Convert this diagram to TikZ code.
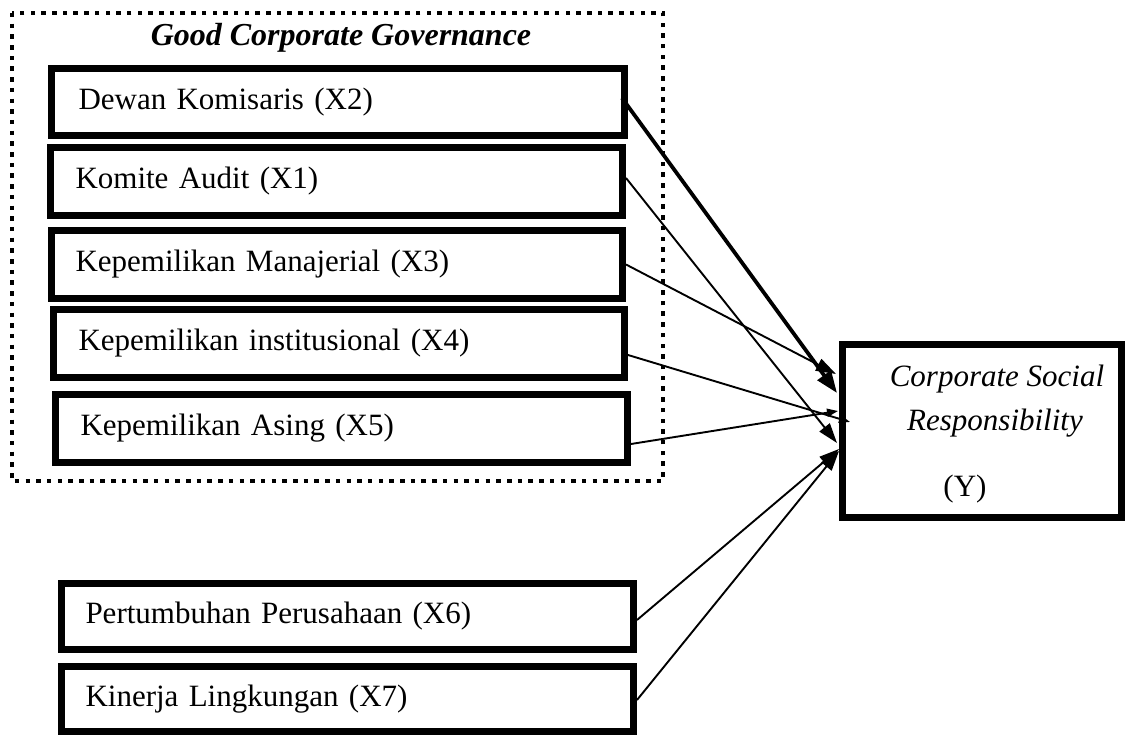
\documentclass[tikz,border=0pt]{standalone}
\usepackage{fontspec}
\setmainfont{Liberation Serif}
\usetikzlibrary{arrows.meta}
\begin{document}
\begin{tikzpicture}[x=1pt,y=-1pt,
  box/.style={draw, line width=7pt, rectangle, anchor=north west, inner ysep=0pt,
    align=left, font=\fontsize{31}{37}\selectfont},
  txt/.style={inner sep=0pt, font=\fontsize{31}{37}\selectfont},
  frame/.style={line width=4.5pt, dash pattern=on 4.5pt off 6.2pt},
  conn/.style={line width=1.9pt, -{Triangle[length=20pt,width=13pt]}},
  connthick/.style={line width=3.8pt, -{Triangle[length=22pt,width=16pt]}},
  connsmall/.style={line width=1.9pt, -{Triangle[length=11pt,width=8pt]}}]
\useasboundingbox (0,0) rectangle (1128,735);
% dotted frame
\draw[frame] (12,13) rectangle (663,481);
\node[txt, font=\fontsize{32}{38}\selectfont\bfseries\itshape] (title) at (341,38) {Good Corporate Governance};
% boxes
\node[box, minimum width=573pt, minimum height=67pt, text width=519pt, inner xsep=27pt] (x2) at (48,65) {Dewan Komisaris (X2)};
\node[box, minimum width=572pt, minimum height=68pt, text width=522pt, inner xsep=25pt] (x1) at (47,144) {Komite Audit (X1)};
\node[box, minimum width=571pt, minimum height=68pt, text width=523pt, inner xsep=24pt] (x3) at (48,227) {Kepemilikan Manajerial (X3)};
\node[box, minimum width=571pt, minimum height=68pt, text width=521pt, inner xsep=25pt] (x4) at (50,306) {Kepemilikan institusional (X4)};
\node[box, minimum width=572pt, minimum height=68pt, text width=522pt, inner xsep=25pt] (x5) at (52,391) {Kepemilikan Asing (X5)};
\node[box, minimum width=572pt, minimum height=66pt, text width=524pt, inner xsep=24pt] (x6) at (58,580) {Pertumbuhan Perusahaan (X6)};
\node[box, minimum width=572pt, minimum height=65pt, text width=524pt, inner xsep=24pt] (x7) at (58,663) {Kinerja Lingkungan (X7)};
% dependent variable
\node[box, minimum width=279pt, minimum height=173pt, inner sep=0pt] (y) at (839,341) {};
\node[txt, font=\fontsize{31}{37}\selectfont\itshape] (yt1) at (997,379) {Corporate Social};
\node[txt, font=\fontsize{31}{37}\selectfont\itshape] (yt2) at (995,423) {Responsibility};
\node[txt] (yt3) at (965,489) {(Y)};
% connectors
\draw[conn] (x3.east) -- ([xshift=-3pt,yshift=57pt]y.west);
\draw[connthick] ([xshift=-6pt,yshift=4pt]x2.east) -- ([xshift=-2pt,yshift=38pt]y.west);
\draw[connsmall] ([yshift=-15.5pt]x5.east) -- ([xshift=-1pt,yshift=20pt]y.west);
\draw[connsmall] ([yshift=-11.5pt]x4.east) -- ([xshift=11pt,yshift=9pt]y.west);
\draw[conn] ([yshift=3.5pt]x1.east) -- ([xshift=-2pt,yshift=-12pt]y.west);
\draw[conn] ([yshift=-3.5pt]x6.east) -- ([yshift=-18pt]y.west);
\draw[conn] ([yshift=-1pt]x7.east) -- ([yshift=-20pt]y.west);
\end{tikzpicture}
\end{document}
